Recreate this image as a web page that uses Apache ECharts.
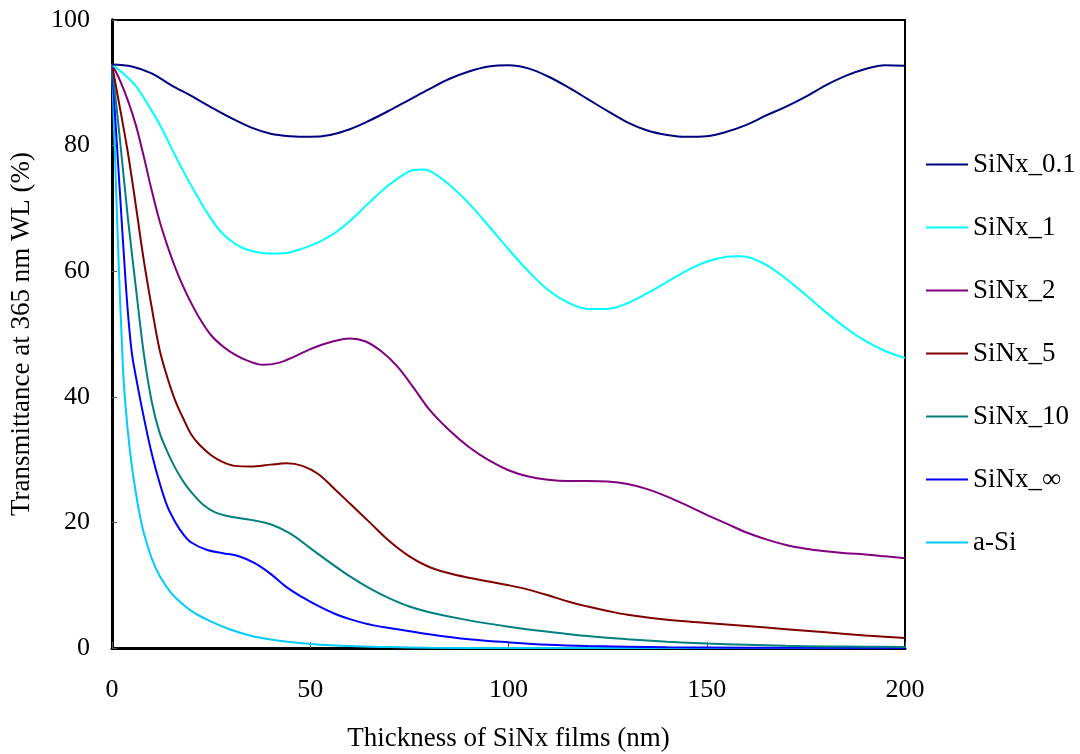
<!DOCTYPE html>
<html>
<head>
<meta charset="utf-8">
<script src="https://cdn.jsdelivr.net/npm/echarts@6/dist/echarts.min.js"></script>
<style>html,body{margin:0;padding:0;background:#fff}#chart{width:1080px;height:754px}</style>
</head>
<body>
<div id="chart"></div>
<script>
// ---- data (thickness in nm, transmittance in %) ----
const seriesNames = ['SiNx_0.1', 'SiNx_1', 'SiNx_2', 'SiNx_5', 'SiNx_10', 'SiNx_\u221E', 'a-Si'];
const xTicks = [0, 50, 100, 150, 200];
const yTicks = [0, 20, 40, 60, 80, 100];

const t_01 = [0,5,10,15,20,25,30,35,40,45,50,55,60,65,70,75,80,85,90,95,100,105,110,115,120,125,130,135,140,145,150,155,160,165,170,175,180,185,190,195,200];
const v_01 = [92.9,92.6,91.5,89.6,87.9,86.1,84.4,82.9,81.9,81.5,81.4,81.7,82.6,84.0,85.6,87.3,89.0,90.6,91.8,92.6,92.8,92.3,91.0,89.3,87.4,85.5,83.7,82.4,81.7,81.4,81.5,82.2,83.3,84.8,86.2,87.8,89.6,91.1,92.2,92.8,92.7];

const t_1 = [0,3,6,9,12,15,18,21,24,27,30,33,36,40,44,48,52,56,60,65,70,75,78,80,85,90,95,100,105,110,115,120,125,130,135,140,145,150,155,158,160,165,170,175,180,185,190,195,200];
const v_1 = [92.9,91.4,89.5,86.6,83.4,79.6,75.9,72.5,69.3,66.6,64.8,63.7,63.1,62.8,62.9,63.6,64.6,66.0,68.0,71.0,73.8,75.9,76.2,76.0,73.8,70.8,67.2,63.5,60.0,57.0,55.0,54.0,54.0,54.9,56.5,58.3,60.1,61.5,62.3,62.4,62.3,61.0,58.8,56.2,53.5,51.0,48.9,47.3,46.2];

const t_2 = [0,2,4,6,8,10,12,14,16,18,20,22,25,28,31,34,38,42,46,50,55,60,64,68,72,76,80,85,90,95,100,105,110,115,120,125,130,135,140,145,150,155,160,165,170,175,180,185,190,195,200];
const v_2 = [92.9,90.4,87.2,83.3,78.3,72.9,68.0,64.0,60.5,57.5,54.9,52.6,49.8,48.0,46.7,45.8,45.1,45.4,46.4,47.6,48.7,49.3,48.8,47.2,44.8,41.5,38.0,34.7,32.0,29.9,28.3,27.3,26.8,26.6,26.6,26.5,26.1,25.3,24.1,22.7,21.2,19.8,18.4,17.3,16.4,15.8,15.4,15.1,14.9,14.6,14.3];

const t_5 = [0,2,4,6,8,10,12,14,16,18,20,22,25,28,31,35,40,44,48,52,56,60,65,70,75,80,85,90,95,100,105,110,115,120,125,130,140,150,160,170,180,190,200];
const v_5 = [92.9,86.0,78.9,70.5,61.8,54.3,47.5,43.0,39.3,36.5,34.0,32.4,30.7,29.6,29.0,28.9,29.2,29.4,29.0,27.7,25.4,23.0,20.0,17.0,14.6,12.9,11.9,11.2,10.6,10.0,9.3,8.4,7.4,6.6,5.9,5.3,4.5,4.0,3.5,3.0,2.5,2.0,1.6];

const t_10 = [0,2,4,6,8,10,12,14,16,18,20,23,26,30,35,40,45,50,55,60,65,70,75,80,90,100,110,120,130,140,150,160,170,180,190,200];
const v_10 = [92.9,81.0,68.5,57.5,47.0,39.3,34.3,31.2,28.6,26.5,24.8,22.8,21.6,20.9,20.4,19.7,18.2,15.9,13.6,11.4,9.5,7.9,6.6,5.7,4.4,3.4,2.6,1.9,1.4,1.0,0.7,0.5,0.35,0.25,0.2,0.15];

const t_inf = [0,1,2,3,4,5,6,8,10,12,14,16,18,20,24,28,32,36,40,44,48,52,56,60,66,72,80,90,100,110,120,140,160,200];
const v_inf = [92.9,82.5,72.5,62.5,53.5,47.0,43.3,36.8,31.0,26.3,22.5,20.0,18.1,16.8,15.6,15.1,14.6,13.5,11.8,9.7,8.1,6.7,5.5,4.6,3.6,3.0,2.2,1.4,0.9,0.5,0.3,0.1,0.05,0.0];

const t_aSi = [0,0.5,1,1.5,2,2.5,3,4,5,6,7,8,10,12,15,18,21,25,30,35,40,45,50,60,70,80,100,200];
const v_aSi = [92.9,83.0,73.5,64.5,56.0,48.5,42.0,34.5,29.0,24.8,21.2,18.4,14.3,11.5,8.7,6.9,5.5,4.2,2.9,1.95,1.35,0.95,0.65,0.3,0.15,0.05,0.0,0.0];

const colors = ['#000080', '#00FFFF', '#800080', '#800000', '#008080', '#0000FF', '#00CCFF'];
// ---------------------------------------------------

const thicknessSets = [t_01, t_1, t_2, t_5, t_10, t_inf, t_aSi];
const valueSets = [v_01, v_1, v_2, v_5, v_10, v_inf, v_aSi];
const zip = (xs, ys) => xs.map((x, i) => [x, ys[i]]);

const FONT = 'Liberation Serif';
const chart = echarts.init(document.getElementById('chart'), null, { renderer: 'canvas' });

const series = seriesNames.map((name, i) => ({
  name: name,
  type: 'line',
  data: zip(thicknessSets[i], valueSets[i]),
  smooth: 0.35,
  symbol: 'none',
  lineStyle: { color: colors[i], width: 2 },
  itemStyle: { color: colors[i] },
  z: 10 - i
}));

chart.setOption({
  animation: false,
  backgroundColor: '#fff',
  color: colors,
  grid: { left: 112, right: 175, top: 20, bottom: 106, outerBoundsMode: 'none', containLabel: false, show: true, borderColor: '#000', borderWidth: 2, backgroundColor: 'transparent' },
  legend: {
    orient: 'vertical',
    left: 921,
    top: 146,
    itemWidth: 42,
    itemHeight: 26,
    itemGap: 36,
    icon: 'path://M0,12 L42,12 L42,14 L0,14 Z',
    textStyle: { fontFamily: FONT, fontSize: 27, color: '#000', lineHeight: 26 },
    data: seriesNames.map((n, i) => ({ name: n, itemStyle: { color: colors[i] } }))
  },
  xAxis: {
    type: 'value',
    min: xTicks[0],
    max: xTicks[xTicks.length - 1],
    interval: xTicks[1] - xTicks[0],
    name: 'Thickness of SiNx films (nm)',
    nameLocation: 'middle',
    nameGap: 77,
    nameTextStyle: { fontFamily: FONT, fontSize: 27, color: '#000' },
    axisLine: { onZero: false, lineStyle: { color: '#000', width: 3 } },
    axisTick: { inside: true, length: 6, lineStyle: { color: '#555', width: 1 } },
    axisLabel: { fontFamily: FONT, fontSize: 26, color: '#000', margin: 29 },
    splitLine: { show: false }
  },
  yAxis: [{
    type: 'value',
    min: yTicks[0],
    max: yTicks[yTicks.length - 1],
    interval: yTicks[1] - yTicks[0],
    name: 'Transmittance at 365 nm WL (%)',
    nameLocation: 'middle',
    nameGap: 77,
    nameTextStyle: { fontFamily: FONT, fontSize: 27, color: '#000' },
    axisLine: { onZero: false, lineStyle: { color: '#000', width: 3 } },
    axisTick: { inside: true, length: 5, lineStyle: { color: '#555', width: 1 } },
    axisLabel: { fontFamily: FONT, fontSize: 26, color: '#000', margin: 22 },
    splitLine: { show: false }
  }, {
    type: 'value',
    position: 'right',
    min: yTicks[0],
    max: yTicks[yTicks.length - 1],
    interval: yTicks[1] - yTicks[0],
    axisLine: { show: true, lineStyle: { color: '#000', width: 3 } },
    axisTick: { show: false },
    axisLabel: { show: false },
    splitLine: { show: false }
  }],
  series: series
});
</script>
</body>
</html>
